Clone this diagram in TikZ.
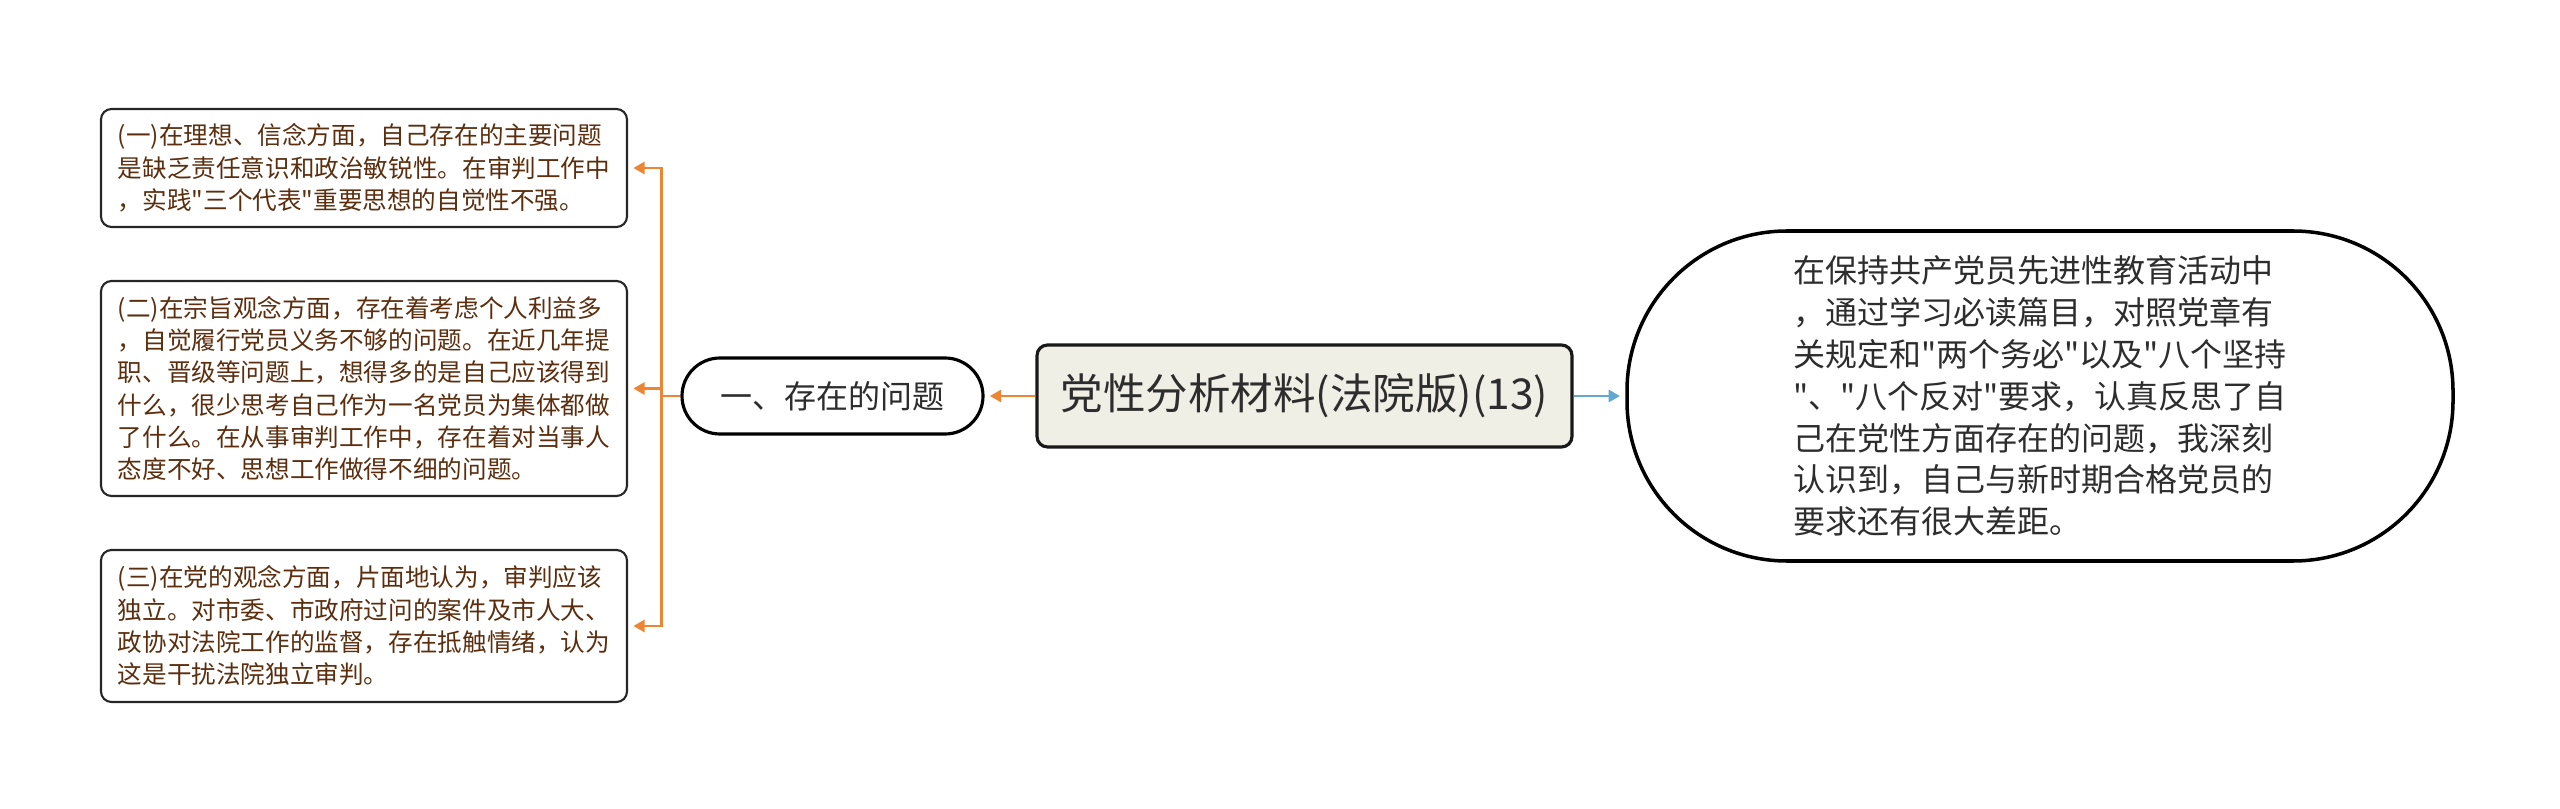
\documentclass[tikz,border=0pt]{standalone}
\usepackage{fontspec}
\setmainfont{Noto Sans CJK SC}[Ligatures=TeXOff]
\usetikzlibrary{arrows.meta}
\definecolor{linkorange}{RGB}{237,133,50}
\definecolor{linkblue}{RGB}{98,168,208}
\definecolor{rootfill}{RGB}{240,239,230}
\definecolor{leaftext}{RGB}{92,46,14}
\definecolor{darktext}{RGB}{45,45,45}

\begin{document}
\begin{tikzpicture}[
  rootbox/.style={draw=black!90, line width=0.9pt, fill=rootfill, rounded corners=3pt,
    minimum width=5.35cm, minimum height=1.02cm, inner sep=0pt,
    font=\fontsize{12.1}{14}\selectfont, text=darktext},
  topicbox/.style={draw=black, line width=0.9pt, fill=white, rounded corners=0.38cm,
    minimum width=3.01cm, minimum height=0.76cm, inner sep=0pt,
    font=\fontsize{9.1}{11}\selectfont, text=darktext},
  notebox/.style={draw=black, line width=1pt, fill=white, rounded corners=1.6cm,
    minimum width=8.26cm, minimum height=3.30cm, inner sep=0pt, align=left,
    font=\fontsize{9.1}{11.9}\selectfont, text=darktext},
  leafbox/.style={draw=black!85, line width=0.6pt, fill=white, rounded corners=3pt,
    minimum width=5.26cm, inner sep=0pt, align=left,
    font=\fontsize{7}{9.2}\selectfont, text=leaftext},
  orangelink/.style={draw=linkorange, line width=0.85pt, shorten >=1.5pt,
    -{Triangle[length=3.2pt,width=3.4pt]}},
  bluelink/.style={draw=linkblue, line width=0.85pt, shorten >=1.5pt,
    -{Triangle[length=3.2pt,width=3.4pt]}}
]
  \useasboundingbox (0,0) rectangle (25.6,8.08);
  % centre and first level
  \node[rootbox] (root) at (13.045,4.12) {党性分析材料(法院版)(13)};
  \node[topicbox] (topic) at (8.325,4.12) {一、存在的问题};
  \node[notebox] (note) at (20.40,4.12) {在保持共产党员先进性教育活动中\\，通过学习必读篇目，对照党章有\\关规定和"两个务必"以及"八个坚持\\"、"八个反对"要求，认真反思了自\\己在党性方面存在的问题，我深刻\\认识到，自己与新时期合格党员的\\要求还有很大差距。};
  % leaves
  \node[leafbox, minimum height=1.18cm] (leafA) at (3.64,6.40) {(一)在理想、信念方面，自己存在的主要问题\\是缺乏责任意识和政治敏锐性。在审判工作中\\，实践"三个代表"重要思想的自觉性不强。};
  \node[leafbox, minimum height=2.15cm] (leafB) at (3.64,4.195) {(二)在宗旨观念方面，存在着考虑个人利益多\\，自觉履行党员义务不够的问题。在近几年提\\职、晋级等问题上，想得多的是自己应该得到\\什么，很少思考自己作为一名党员为集体都做\\了什么。在从事审判工作中，存在着对当事人\\态度不好、思想工作做得不细的问题。};
  \node[leafbox, minimum height=1.52cm] (leafC) at (3.64,1.82) {(三)在党的观念方面，片面地认为，审判应该\\独立。对市委、市政府过问的案件及市人大、\\政协对法院工作的监督，存在抵触情绪，认为\\这是干扰法院独立审判。};
  % connectors
  \draw[orangelink] (root.west) -- (topic.east);
  \draw[bluelink] (root.east) -- (note.west);
  \foreach \leaf in {leafA,leafB,leafC}
    \draw[orangelink] (topic.west) -- ++(-0.19,0) |- (\leaf.east);
\end{tikzpicture}
\end{document}
